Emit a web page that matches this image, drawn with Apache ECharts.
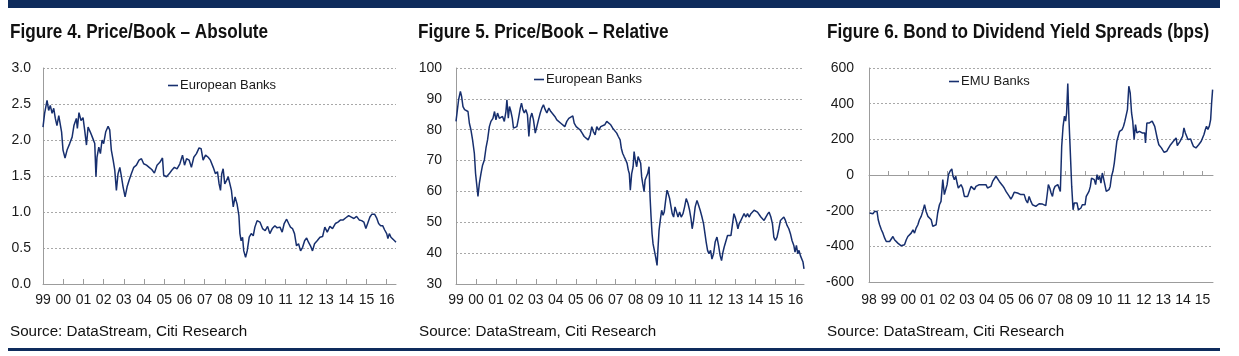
<!DOCTYPE html>
<html><head><meta charset="utf-8">
<script src="https://cdn.jsdelivr.net/npm/echarts@6/dist/echarts.min.js"></script>
<style>html,body{margin:0;padding:0;background:#fff}#c{width:1239px;height:356px}</style>
</head><body><div id="c"></div>
<script>
const FONT = "'Liberation Sans', Arial, sans-serif";
const titles = ['Figure 4. Price/Book \u2013 Absolute', 'Figure 5. Price/Book \u2013 Relative', 'Figure 6. Bond to Dividend Yield Spreads (bps)'];
const sourceText = 'Source: DataStream, Citi Research';
const seriesNames = ['European Banks', 'European Banks', 'EMU Banks'];
const yearTicksA = [1999,2000,2001,2002,2003,2004,2005,2006,2007,2008,2009,2010,2011,2012,2013,2014,2015,2016];
const yearTicksB = [1998,1999,2000,2001,2002,2003,2004,2005,2006,2007,2008,2009,2010,2011,2012,2013,2014,2015];
const zeroLineTicksB = [1999,2000,2001,2002,2003,2004,2005,2006,2007,2008,2009,2010,2011,2012,2013,2014,2015];

// Figure 4: Price/Book absolute, [year, value]
const pbAbsolute = [
[1999.00,2.18],[1999.08,2.37],[1999.20,2.55],[1999.28,2.41],[1999.36,2.48],[1999.45,2.37],[1999.53,2.44],[1999.61,2.30],[1999.69,2.20],[1999.78,2.34],
[1999.86,2.32],[1999.92,2.11],[1999.99,1.86],[2000.09,1.75],[2000.19,1.86],[2000.32,1.95],[2000.44,2.04],[2000.53,2.20],[2000.65,2.30],[2000.70,2.16],
[2000.78,2.38],[2000.88,2.27],[2000.98,2.31],[2001.06,2.14],[2001.15,1.93],[2001.23,2.18],[2001.34,2.11],[2001.44,2.04],[2001.56,1.95],[2001.62,1.49],
[2001.67,1.76],[2001.76,1.90],[2001.84,1.81],[2001.92,2.00],[2002.00,1.95],[2002.10,2.11],[2002.22,2.19],[2002.30,2.14],[2002.38,1.86],[2002.47,1.72],
[2002.55,1.58],[2002.63,1.30],[2002.71,1.53],[2002.80,1.62],[2002.88,1.49],[2002.96,1.35],[2003.06,1.21],[2003.16,1.35],[2003.26,1.44],[2003.37,1.53],
[2003.49,1.62],[2003.62,1.65],[2003.75,1.72],[2003.87,1.74],[2003.98,1.67],[2004.12,1.65],[2004.25,1.62],[2004.38,1.59],[2004.51,1.54],[2004.64,1.65],
[2004.78,1.69],[2004.91,1.75],[2004.97,1.51],[2005.11,1.49],[2005.24,1.53],[2005.37,1.58],[2005.50,1.62],[2005.63,1.60],[2005.77,1.67],[2005.90,1.79],
[2006.00,1.65],[2006.10,1.74],[2006.23,1.72],[2006.34,1.62],[2006.46,1.76],[2006.59,1.81],[2006.72,1.89],[2006.82,1.88],[2006.92,1.72],[2007.04,1.79],
[2007.17,1.76],[2007.28,1.72],[2007.42,1.62],[2007.53,1.53],[2007.63,1.56],[2007.71,1.39],[2007.78,1.30],[2007.84,1.53],[2007.91,1.60],[2007.99,1.39],
[2008.08,1.44],[2008.16,1.49],[2008.24,1.48],[2008.32,1.30],[2008.41,1.07],[2008.50,1.21],[2008.60,1.11],[2008.69,0.95],[2008.74,0.70],[2008.80,0.60],
[2008.87,0.65],[2008.93,0.46],[2009.02,0.37],[2009.10,0.46],[2009.20,0.65],[2009.30,0.70],[2009.40,0.67],[2009.48,0.79],[2009.59,0.88],[2009.73,0.86],
[2009.86,0.77],[2009.99,0.74],[2010.11,0.80],[2010.22,0.70],[2010.34,0.77],[2010.47,0.81],[2010.58,0.78],[2010.72,0.79],[2010.83,0.72],[2010.93,0.84],
[2011.05,0.90],[2011.15,0.84],[2011.24,0.79],[2011.34,0.77],[2011.44,0.70],[2011.54,0.53],[2011.64,0.56],[2011.74,0.46],[2011.84,0.51],[2011.94,0.60],
[2012.04,0.64],[2012.13,0.58],[2012.23,0.53],[2012.33,0.46],[2012.43,0.56],[2012.56,0.60],[2012.70,0.65],[2012.83,0.66],[2012.94,0.79],[2013.06,0.72],
[2013.19,0.80],[2013.32,0.77],[2013.46,0.84],[2013.59,0.86],[2013.72,0.89],[2013.85,0.89],[2013.98,0.92],[2014.12,0.95],[2014.25,0.93],[2014.38,0.91],
[2014.51,0.94],[2014.64,0.89],[2014.76,0.88],[2014.87,0.86],[2014.97,0.77],[2015.07,0.85],[2015.17,0.93],[2015.27,0.97],[2015.40,0.97],[2015.50,0.92],
[2015.60,0.84],[2015.70,0.81],[2015.80,0.81],[2015.90,0.75],[2016.00,0.70],[2016.06,0.63],[2016.13,0.70],[2016.21,0.65],[2016.29,0.67],[2016.39,0.60],
[2016.46,0.58]
];

// Figure 5: Price/Book relative, [year, value]
const pbRelative = [
[1999.00,82.7],[1999.05,85.4],[1999.13,89.7],[1999.22,92.4],[1999.28,90.8],[1999.35,87.5],[1999.43,86.5],[1999.52,87.0],[1999.60,85.9],[1999.67,82.1],
[1999.75,79.9],[1999.83,76.7],[1999.92,72.3],[1999.98,65.8],[2000.05,61.5],[2000.10,58.4],[2000.17,62.6],[2000.25,65.8],[2000.33,68.5],[2000.42,70.2],
[2000.50,74.0],[2000.58,76.7],[2000.67,81.0],[2000.75,82.7],[2000.85,83.7],[2000.93,85.9],[2001.00,83.2],[2001.08,85.4],[2001.17,83.7],[2001.25,83.2],
[2001.33,84.3],[2001.42,82.7],[2001.50,85.9],[2001.55,89.7],[2001.62,83.7],[2001.68,87.5],[2001.75,85.9],[2001.82,83.7],[2001.88,80.5],[2001.97,80.5],
[2002.05,81.0],[2002.13,83.7],[2002.22,87.0],[2002.28,88.6],[2002.35,86.5],[2002.42,85.4],[2002.50,86.5],[2002.58,84.8],[2002.65,77.8],[2002.72,83.7],
[2002.80,85.4],[2002.88,83.2],[2002.97,78.9],[2003.05,81.0],[2003.13,83.2],[2003.22,85.4],[2003.30,87.0],[2003.38,88.1],[2003.47,86.5],[2003.55,85.4],
[2003.65,87.0],[2003.75,85.9],[2003.85,85.4],[2003.95,84.3],[2004.05,83.2],[2004.15,82.7],[2004.25,82.1],[2004.35,82.7],[2004.45,81.0],[2004.55,82.7],
[2004.65,83.7],[2004.75,84.3],[2004.85,84.5],[2004.92,82.1],[2005.02,81.0],[2005.12,81.0],[2005.22,79.9],[2005.32,78.9],[2005.42,77.8],[2005.52,77.2],
[2005.62,76.7],[2005.72,78.3],[2005.80,81.0],[2005.88,79.4],[2005.97,78.3],[2006.05,81.0],[2006.15,79.9],[2006.25,81.0],[2006.35,80.5],[2006.45,81.6],
[2006.55,82.7],[2006.65,83.2],[2006.75,81.6],[2006.85,80.5],[2006.95,79.9],[2007.05,78.9],[2007.13,77.8],[2007.22,76.7],[2007.28,74.0],[2007.35,72.3],
[2007.42,71.3],[2007.50,70.2],[2007.57,69.1],[2007.63,66.9],[2007.68,65.8],[2007.73,60.4],[2007.80,65.8],[2007.87,68.0],[2007.92,72.9],[2007.98,70.2],
[2008.05,68.0],[2008.12,71.3],[2008.18,71.8],[2008.25,69.1],[2008.30,64.7],[2008.35,62.6],[2008.42,59.9],[2008.47,63.7],[2008.53,64.7],[2008.60,65.8],
[2008.67,68.0],[2008.72,58.2],[2008.77,51.7],[2008.82,46.3],[2008.87,43.0],[2008.93,43.6],[2009.00,38.7],[2009.07,36.0],[2009.12,41.9],[2009.17,47.4],
[2009.23,50.6],[2009.30,53.9],[2009.37,52.3],[2009.43,53.3],[2009.50,57.1],[2009.57,60.4],[2009.63,59.3],[2009.70,57.7],[2009.77,55.0],[2009.83,52.8],
[2009.90,51.7],[2009.97,55.0],[2010.03,54.4],[2010.12,51.7],[2010.20,53.3],[2010.28,51.7],[2010.37,52.8],[2010.45,55.0],[2010.53,57.7],[2010.62,56.1],
[2010.70,53.9],[2010.77,51.2],[2010.83,47.9],[2010.90,50.6],[2010.98,55.0],[2011.07,57.1],[2011.15,55.5],[2011.23,53.9],[2011.32,51.7],[2011.40,49.5],
[2011.47,46.3],[2011.53,43.6],[2011.60,40.9],[2011.67,39.8],[2011.75,40.9],[2011.82,38.1],[2011.90,39.8],[2011.98,43.6],[2012.07,45.2],[2012.15,42.5],
[2012.23,39.2],[2012.30,37.6],[2012.37,40.3],[2012.43,41.9],[2012.52,41.4],[2012.60,45.7],[2012.68,46.3],[2012.77,45.7],[2012.85,46.3],[2012.92,52.8],
[2012.98,51.7],[2013.05,50.1],[2013.12,47.9],[2013.18,49.5],[2013.27,50.6],[2013.35,51.7],[2013.43,52.8],[2013.52,51.7],[2013.60,52.8],[2013.68,51.7],
[2013.77,52.8],[2013.85,53.3],[2013.93,53.9],[2014.02,54.4],[2014.10,53.3],[2014.18,52.8],[2014.27,51.7],[2014.35,52.3],[2014.43,50.6],[2014.52,51.7],
[2014.60,52.6],[2014.68,53.3],[2014.77,51.7],[2014.85,49.5],[2014.92,45.2],[2015.00,44.1],[2015.08,45.2],[2015.17,47.9],[2015.25,50.6],[2015.33,51.2],
[2015.42,51.7],[2015.50,50.6],[2015.58,49.0],[2015.67,47.9],[2015.75,46.3],[2015.83,44.1],[2015.92,42.5],[2015.98,40.3],[2016.05,42.5],[2016.12,39.8],
[2016.18,40.9],[2016.25,39.2],[2016.32,39.8],[2016.38,37.1],[2016.43,34.9]
];

// Figure 6: bond to dividend yield spread (bps), [year, value]
const yieldSpread = [
[1998.03,-213],[1998.12,-217],[1998.20,-217],[1998.29,-204],[1998.34,-195],[1998.41,-204],[1998.47,-251],[1998.54,-279],[1998.63,-307],[1998.71,-326],
[1998.80,-354],[1998.88,-373],[1998.97,-382],[1999.05,-373],[1999.13,-373],[1999.22,-345],[1999.30,-363],[1999.39,-373],[1999.47,-382],[1999.56,-386],
[1999.64,-397],[1999.73,-401],[1999.81,-391],[1999.90,-363],[1999.98,-345],[2000.07,-345],[2000.15,-326],[2000.24,-307],[2000.32,-326],[2000.40,-298],
[2000.49,-279],[2000.57,-251],[2000.66,-232],[2000.74,-204],[2000.83,-167],[2000.91,-204],[2001.00,-232],[2001.08,-242],[2001.17,-251],[2001.25,-288],
[2001.34,-288],[2001.42,-279],[2001.50,-213],[2001.59,-167],[2001.67,-148],[2001.76,-26],[2001.84,-110],[2001.91,-120],[2001.98,-54],[2002.05,2],
[2002.13,21],[2002.22,34],[2002.28,-7],[2002.35,-26],[2002.42,-7],[2002.49,-45],[2002.55,-73],[2002.62,-82],[2002.69,-54],[2002.77,-73],
[2002.86,-120],[2002.94,-120],[2003.03,-120],[2003.11,-92],[2003.20,-64],[2003.28,-73],[2003.37,-82],[2003.45,-64],[2003.54,-73],[2003.62,-54],
[2003.71,-60],[2003.79,-54],[2003.88,-60],[2003.96,-54],[2004.04,-73],[2004.13,-82],[2004.21,-64],[2004.30,-36],[2004.38,-26],[2004.47,-7],
[2004.55,-17],[2004.64,-36],[2004.72,-45],[2004.81,-60],[2004.89,-73],[2004.98,-92],[2005.06,-101],[2005.15,-120],[2005.23,-135],[2005.31,-120],
[2005.40,-97],[2005.48,-101],[2005.57,-101],[2005.65,-107],[2005.74,-110],[2005.82,-107],[2005.91,-110],[2005.99,-139],[2006.08,-157],[2006.16,-120],
[2006.25,-148],[2006.33,-167],[2006.42,-176],[2006.50,-176],[2006.58,-172],[2006.67,-161],[2006.75,-161],[2006.84,-163],[2006.92,-161],[2007.01,-172],
[2007.09,-101],[2007.14,-54],[2007.21,-73],[2007.28,-101],[2007.35,-120],[2007.41,-82],[2007.48,-64],[2007.55,-64],[2007.62,-54],[2007.69,-64],
[2007.75,-92],[2007.82,161],[2007.89,273],[2007.96,330],[2008.02,302],[2008.07,348],[2008.13,513],[2008.18,513],[2008.19,311],[2008.26,124],
[2008.33,-64],[2008.40,-195],[2008.46,-157],[2008.53,-167],[2008.60,-157],[2008.67,-195],[2008.73,-195],[2008.80,-185],[2008.87,-167],[2008.94,-176],
[2009.01,-167],[2009.07,-120],[2009.14,-116],[2009.21,-92],[2009.28,-64],[2009.34,-17],[2009.41,-7],[2009.48,-26],[2009.55,-54],[2009.62,2],
[2009.68,-26],[2009.75,-7],[2009.82,-45],[2009.89,11],[2009.95,-17],[2010.02,-54],[2010.09,-92],[2010.16,-92],[2010.23,-82],[2010.29,-64],
[2010.36,-7],[2010.43,21],[2010.50,67],[2010.56,124],[2010.63,189],[2010.70,217],[2010.77,245],[2010.83,255],[2010.90,255],[2010.97,273],
[2011.04,302],[2011.11,311],[2011.17,367],[2011.24,498],[2011.31,461],[2011.38,348],[2011.44,302],[2011.51,199],[2011.58,283],[2011.65,236],
[2011.71,236],[2011.78,245],[2011.85,245],[2011.92,236],[2011.99,240],[2012.05,236],[2012.09,180],[2012.16,292],[2012.22,302],[2012.29,292],
[2012.36,292],[2012.43,302],[2012.49,302],[2012.56,273],[2012.63,236],[2012.70,199],[2012.77,170],[2012.83,161],[2012.90,152],[2012.97,139],
[2013.04,127],[2013.10,127],[2013.17,133],[2013.24,146],[2013.31,157],[2013.37,170],[2013.44,180],[2013.51,189],[2013.58,199],[2013.65,208],
[2013.71,165],[2013.78,170],[2013.85,189],[2013.92,189],[2013.98,217],[2014.05,264],[2014.12,236],[2014.19,217],[2014.25,199],[2014.32,208],
[2014.39,202],[2014.46,180],[2014.53,161],[2014.59,152],[2014.66,152],[2014.73,161],[2014.80,170],[2014.86,180],[2014.93,189],[2015.00,199],
[2015.07,227],[2015.14,255],[2015.20,273],[2015.27,255],[2015.34,273],[2015.41,311],[2015.46,405],[2015.51,479]
];

const LINE = '#172f6e';
const BAR = '#0e2b5c';
const GRIDC = '#a8a8a8';
const AXISC = '#9c9c9c';
const TXT = '#1a1a1a';

function yearLabel(v) { return String(Math.round(v)).slice(2); }

function xAxisMain(gridIndex, min, max, ticks, margin) {
  return {
    type: 'value', gridIndex, min, max, position: 'bottom',
    axisLine: { show: true, onZero: false, lineStyle: { color: AXISC, width: 1 } },
    axisTick: { show: true, inside: true, length: 5, customValues: ticks, lineStyle: { color: AXISC } },
    axisLabel: { customValues: ticks, formatter: yearLabel, margin, fontFamily: FONT, fontSize: 14, color: TXT },
    splitLine: { show: false }
  };
}
function yAxisOf(gridIndex, min, max, interval, margin, fmt) {
  return {
    type: 'value', gridIndex, min, max, interval,
    axisLine: { show: true, onZero: false, lineStyle: { color: AXISC, width: 1 } },
    axisTick: { show: false },
    axisLabel: { margin, formatter: fmt, fontFamily: FONT, fontSize: 14, color: TXT },
    splitLine: { show: true, lineStyle: { type: [2, 2], color: GRIDC, width: 1 } }
  };
}
function legendOf(left, top, name) {
  return {
    left, top, data: [name], icon: 'rect', itemWidth: 10, itemHeight: 1.6,
    selectedMode: false, padding: 0,
    textStyle: { fontFamily: FONT, fontSize: 13, color: TXT, padding: [0, 0, 0, -3] }
  };
}
function lineSeries(name, xi, yi, data) {
  return {
    type: 'line', name, xAxisIndex: xi, yAxisIndex: yi, data,
    showSymbol: false, symbol: 'none', animation: false,
    color: LINE, lineStyle: { color: LINE, width: 1.5 }
  };
}
function titleText(x, text) {
  return {
    type: 'text', x, y: 22, scaleX: 0.857, silent: true,
    style: { text, font: "bold 20px 'Liberation Sans', Arial, sans-serif", fill: '#111', verticalAlign: 'top' }
  };
}

const chart = echarts.init(document.getElementById('c'), null, { renderer: 'canvas' });
const srcStyle = { fontFamily: FONT, fontSize: 15.2, fontWeight: 'normal', color: '#111' };

chart.setOption({
  animation: false,
  backgroundColor: '#fff',
  title: [
    { text: sourceText, left: 10, top: 324, padding: 0, textStyle: srcStyle },
    { text: sourceText, left: 419, top: 324, padding: 0, textStyle: srcStyle },
    { text: sourceText, left: 827, top: 324, padding: 0, textStyle: srcStyle }
  ],
  legend: [
    legendOf(168, 79, seriesNames[0]),
    legendOf(534, 73, seriesNames[1]),
    legendOf(949, 75, seriesNames[2])
  ],
  grid: [
    { left: 43, top: 68, width: 353, height: 216 },
    { left: 456, top: 68, width: 348, height: 216 },
    { left: 869, top: 68, width: 344, height: 214 }
  ],
  xAxis: [
    xAxisMain(0, 1999, 2016.46, yearTicksA, 9),
    xAxisMain(1, 1999, 2016.43, yearTicksA, 9),
    Object.assign(xAxisMain(2, 1998, 2015.53, yearTicksB, 11), { axisTick: { show: false } }),
    {
      type: 'value', gridIndex: 2, min: 1998, max: 2015.53, position: 'bottom',
      axisLine: { show: true, onZero: true, lineStyle: { color: AXISC, width: 1 } },
      axisTick: { show: true, inside: true, length: 4, customValues: zeroLineTicksB, lineStyle: { color: AXISC } },
      axisLabel: { show: false }, splitLine: { show: false }
    }
  ],
  yAxis: [
    yAxisOf(0, 0, 3, 0.5, 12, v => v.toFixed(1)),
    yAxisOf(1, 30, 100, 10, 14, v => String(v)),
    yAxisOf(2, -600, 600, 200, 15, v => String(v))
  ],
  series: [
    lineSeries(seriesNames[0], 0, 0, pbAbsolute),
    lineSeries(seriesNames[1], 1, 1, pbRelative),
    lineSeries(seriesNames[2], 2, 2, yieldSpread)
  ],
  graphic: [
    { type: 'rect', shape: { x: 8, y: 0, width: 1212, height: 8 }, style: { fill: BAR }, silent: true },
    { type: 'rect', shape: { x: 8, y: 348, width: 1212, height: 3 }, style: { fill: BAR }, silent: true },
    titleText(10, titles[0]),
    titleText(418, titles[1]),
    titleText(827, titles[2])
  ]
});
</script>
</body></html>
